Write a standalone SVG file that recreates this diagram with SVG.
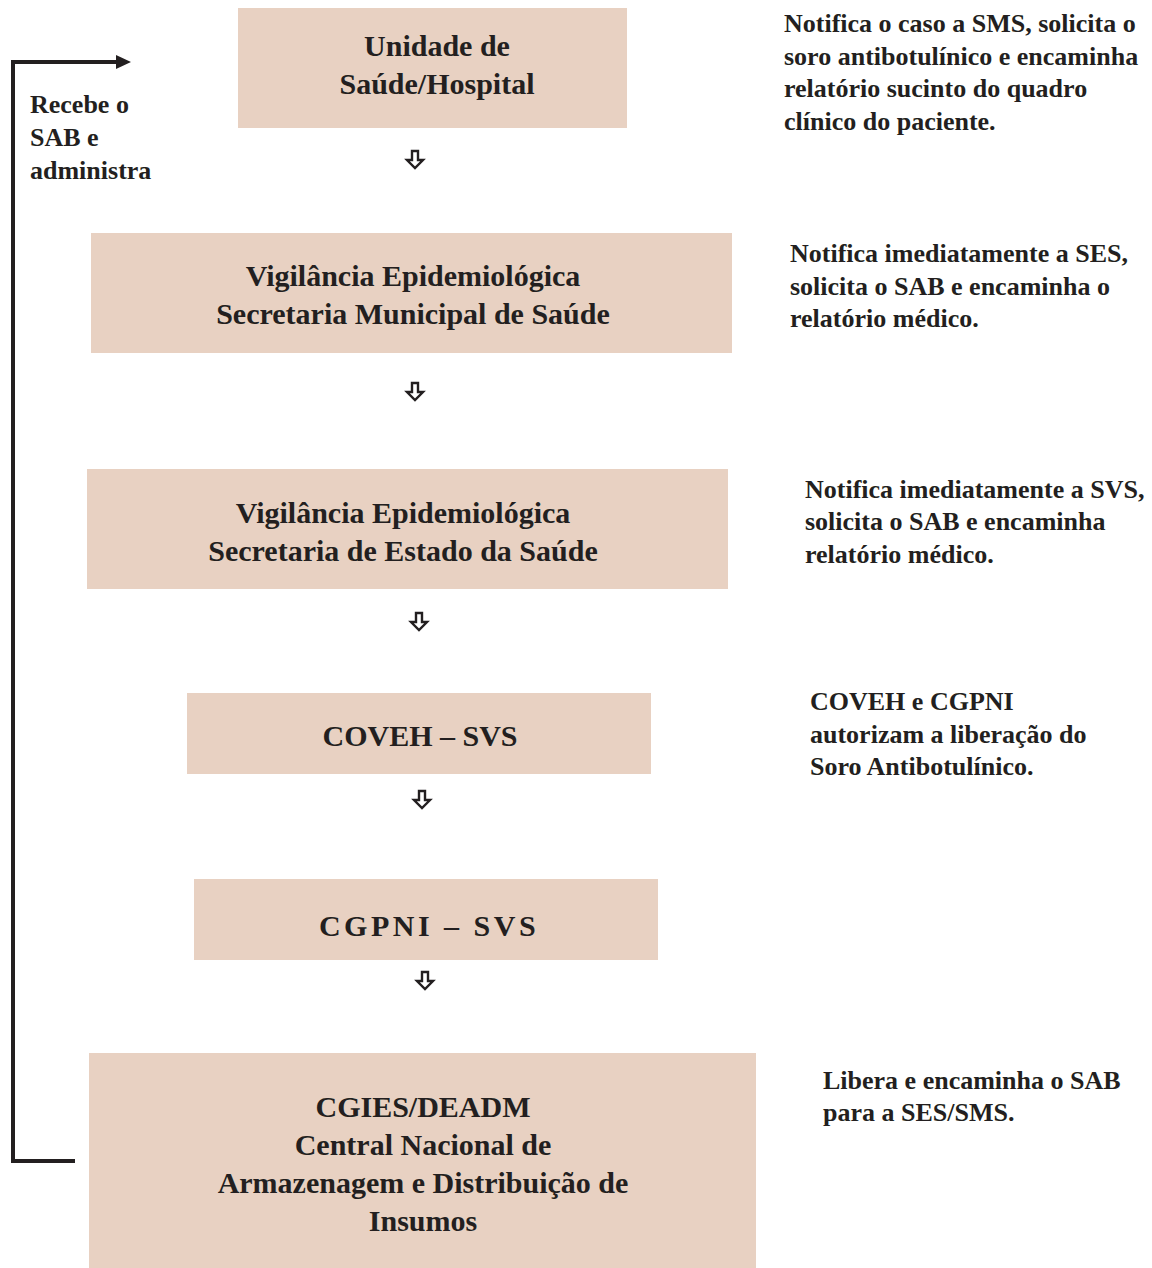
<svg xmlns="http://www.w3.org/2000/svg" width="1152" height="1268" viewBox="0 0 1152 1268">
<defs>
<style>
.box{fill:#e8d1c2}
.t{font-family:"Liberation Serif","Times New Roman",serif;font-weight:bold;fill:#231f20}
.bt{font-size:30px;text-anchor:middle}
.st{font-size:26px}
.dn{fill:none;stroke:#231f20;stroke-width:2.4;stroke-linejoin:miter}
.conn{fill:none;stroke:#231f20;stroke-width:4}
</style>
</defs>
<rect width="1152" height="1268" fill="#ffffff"/>

<g id="node-unidade">
<rect class="box" x="238" y="8" width="389" height="120"/>
<text class="t bt" x="437" y="56">Unidade de</text>
<text class="t bt" x="437" y="94">Saúde/Hospital</text>
</g>

<g id="node-vigilancia-municipal">
<rect class="box" x="91" y="233" width="641" height="120"/>
<text class="t bt" x="413" y="286">Vigilância Epidemiológica</text>
<text class="t bt" x="413" y="324">Secretaria Municipal de Saúde</text>
</g>

<g id="node-vigilancia-estadual">
<rect class="box" x="87" y="469" width="641" height="120"/>
<text class="t bt" x="403" y="523">Vigilância Epidemiológica</text>
<text class="t bt" x="403" y="561">Secretaria de Estado da Saúde</text>
</g>

<g id="node-coveh">
<rect class="box" x="187" y="693" width="464" height="81"/>
<text class="t bt" x="420" y="746">COVEH – SVS</text>
</g>

<g id="node-cgpni">
<rect class="box" x="194" y="879" width="464" height="81"/>
<text class="t bt" x="429" y="936" letter-spacing="3.5">CGPNI – SVS</text>
</g>

<g id="node-cgies">
<rect class="box" x="89" y="1053" width="667" height="215"/>
<text class="t bt" x="423" y="1117">CGIES/DEADM</text>
<text class="t bt" x="423" y="1155">Central Nacional de</text>
<text class="t bt" x="423" y="1193">Armazenagem e Distribuição de</text>
<text class="t bt" x="423" y="1231">Insumos</text>
</g>

<g id="notes">
<text class="t st" x="784" y="32">Notifica o caso a SMS, solicita o</text>
<text class="t st" x="784" y="65">soro antibotulínico e encaminha</text>
<text class="t st" x="784" y="97">relatório sucinto do quadro</text>
<text class="t st" x="784" y="130">clínico do paciente.</text>

<text class="t st" x="790" y="262">Notifica imediatamente a SES,</text>
<text class="t st" x="790" y="295">solicita o SAB e encaminha o</text>
<text class="t st" x="790" y="327">relatório médico.</text>

<text class="t st" x="805" y="498">Notifica imediatamente a SVS,</text>
<text class="t st" x="805" y="530">solicita o SAB e encaminha</text>
<text class="t st" x="805" y="563">relatório médico.</text>

<text class="t st" x="810" y="710">COVEH e CGPNI</text>
<text class="t st" x="810" y="743">autorizam a liberação do</text>
<text class="t st" x="810" y="775">Soro Antibotulínico.</text>

<text class="t st" x="823" y="1089">Libera e encaminha o SAB</text>
<text class="t st" x="823" y="1121">para a SES/SMS.</text>

<text class="t st" x="30" y="113">Recebe o</text>
<text class="t st" x="30" y="146">SAB e</text>
<text class="t st" x="30" y="179">administra</text>
</g>

<g id="connectors">
<path class="dn" d="M412,151 h6 v9 h5 l-8,8 l-8,-8 h5 z"/>
<path class="dn" d="M412,383 h6 v9 h5 l-8,8 l-8,-8 h5 z"/>
<path class="dn" d="M416,613 h6 v9 h5 l-8,8 l-8,-8 h5 z"/>
<path class="dn" d="M419,791 h6 v9 h5 l-8,8 l-8,-8 h5 z"/>
<path class="dn" d="M422,972 h6 v9 h5 l-8,8 l-8,-8 h5 z"/>
<polyline class="conn" points="75,1161 13,1161 13,62 118,62"/>
<polygon points="116,55 131,62 116,69" fill="#231f20"/>
</g>
</svg>
